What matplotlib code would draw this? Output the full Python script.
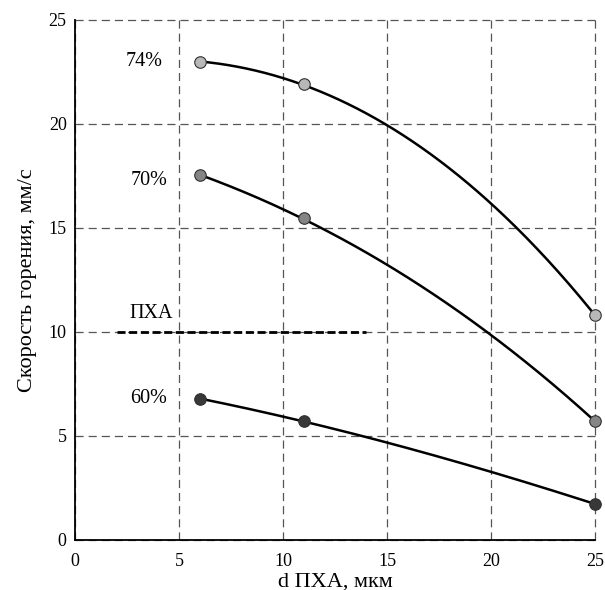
import numpy as np
import matplotlib
matplotlib.use("Agg")
import matplotlib.pyplot as plt

plt.rcParams['font.family'] = ['Liberation Serif', 'DejaVu Serif']

# ---- data ----
marker_x = [6, 11, 25]
y74 = [23.0, 21.9, 10.8]
y70 = [17.55, 15.47, 5.7]
y60 = [6.8, 5.7, 1.73]

# curve traces (smooth lines through the markers)
trace74_x = [6, 11, 15, 20, 25]
trace74_y = [23.0, 21.9, 19.9, 16.2, 10.8]
trace70_x = [6, 11, 14.7, 19.85, 25]
trace70_y = [17.55, 15.47, 13.35, 10.0, 5.7]
trace60_x = [6, 11, 15, 20, 25]
trace60_y = [6.8, 5.7, 4.68, 3.28, 1.73]

labels = ["74%", "70%", "60%"]
label_x = [4.2, 4.45, 4.42]
label_y = [23.0, 17.3, 6.8]

pxa_x = [2.0, 14.0]
pxa_y = [10.0, 10.0]

ticks = [0, 5, 10, 15, 20, 25]

face_colors = ["#b8b8b8", "#858585", "#383838"]


def smooth_curve(xs, ys, n=300):
    """Smooth rendering of a traced curve (least-squares cubic)."""
    coef = np.polyfit(xs, ys, 3)
    xx = np.linspace(min(xs), max(xs), n)
    return xx, np.polyval(coef, xx)


fig = plt.figure(figsize=(6.05, 5.9), dpi=100)
ax = fig.add_axes([75 / 605, 50 / 590, 520 / 605, 520 / 590])

ax.set_xlim(0, 25)
ax.set_ylim(0, 25)
ax.set_xticks(ticks)
ax.set_yticks(ticks)

ax.grid(True, color="#555555", lw=0.9, ls=(0, (6.5, 4)))
for gl in ax.get_xgridlines() + ax.get_ygridlines():
    gl.set_clip_on(False)
ax.set_axisbelow(True)

for s in ["top", "right"]:
    ax.spines[s].set_visible(False)
for s in ["left", "bottom"]:
    ax.spines[s].set_linewidth(1.3)
    ax.spines[s].set_zorder(5)

ax.tick_params(axis='x', length=0, pad=9, labelsize=13)
ax.tick_params(axis='y', length=0, pad=6, labelsize=13)

ax.plot(pxa_x, pxa_y, color="black", lw=2.0, ls=(0, (2.9, 1.3)), zorder=3)

traces = [(trace74_x, trace74_y), (trace70_x, trace70_y), (trace60_x, trace60_y)]
for (tx, ty) in traces:
    xx, yy = smooth_curve(tx, ty)
    ax.plot(xx, yy, color="black", lw=1.8, zorder=3, solid_capstyle='round')

for ys, fc in zip([y74, y70, y60], face_colors):
    ax.plot(marker_x, ys, ls='none', marker='o', ms=8.3, mfc=fc, mec="#303030",
            mew=0.8, zorder=6, clip_on=False)

for lab, lx, ly in zip(labels, label_x, label_y):
    ax.text(lx, ly, lab, ha='right', va='center', fontsize=14.5)

ax.text(2.6, 10.45, "ПХА", ha='left', va='bottom', fontsize=14.5)

ax.set_xlabel("d ПХА, мкм", fontsize=16, labelpad=2)
ax.set_ylabel("Скорость горения, мм/с", fontsize=16, labelpad=8)

fig.savefig("out.png", dpi=100)
